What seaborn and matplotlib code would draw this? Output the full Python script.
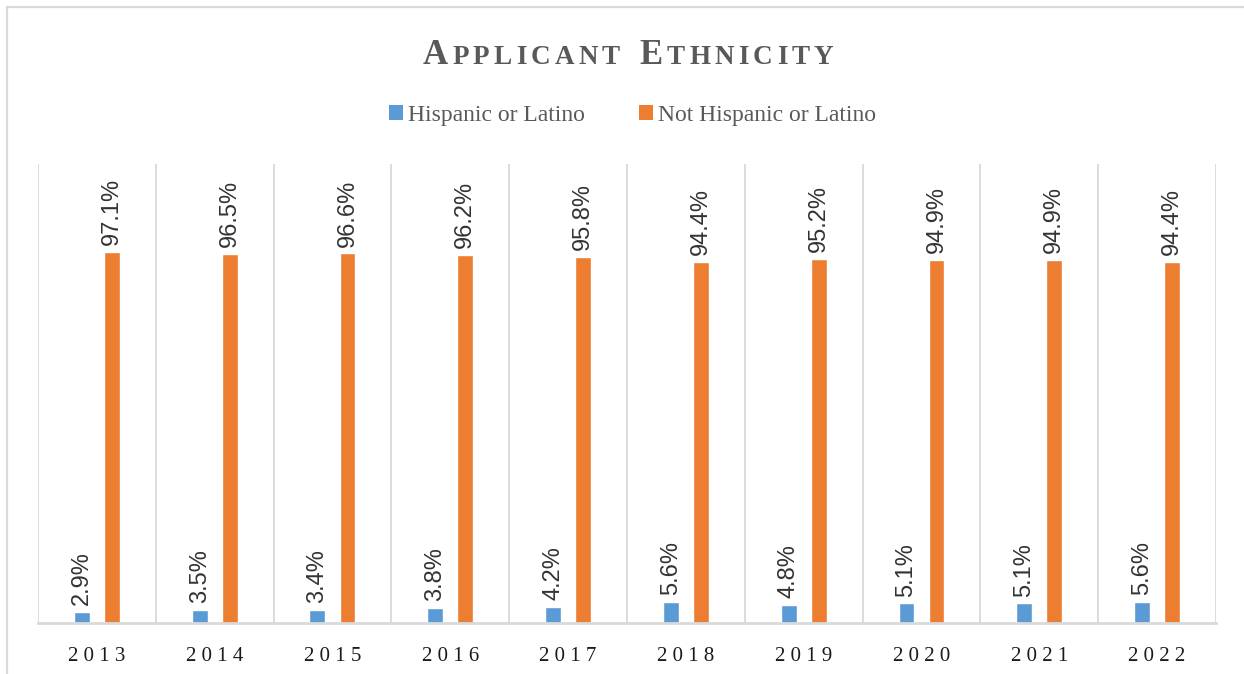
import numpy as np
import pandas as pd
import matplotlib
matplotlib.use('Agg')
import matplotlib.pyplot as plt
import seaborn as sns
from matplotlib.patches import Patch, Rectangle
from matplotlib.offsetbox import TextArea, HPacker, AnchoredOffsetbox

# chart data
years = ['2013', '2014', '2015', '2016', '2017', '2018', '2019', '2020', '2021', '2022']
hispanic = [2.9, 3.5, 3.4, 3.8, 4.2, 5.6, 4.8, 5.1, 5.1, 5.6]
not_hispanic = [97.1, 96.5, 96.6, 96.2, 95.8, 94.4, 95.2, 94.9, 94.9, 94.4]
groups = ['Hispanic or Latino', 'Not Hispanic or Latino']
colors = ['#5B9BD5', '#ED7D31']

df = pd.DataFrame({
    'year': years * 2,
    'pct': hispanic + not_hispanic,
    'group': [groups[0]] * len(years) + [groups[1]] * len(years),
})

sns.set_style('white')
serif = ['Liberation Serif', 'DejaVu Serif']
sans = ['Liberation Sans', 'DejaVu Sans']

fig = plt.figure(figsize=(12.44, 6.74), dpi=100)
ax = fig.add_axes([0.0305, 0.0757, 0.9470, 0.681])

sns.barplot(data=df, x='year', y='pct', hue='group', palette=colors,
            saturation=1, width=0.51, gap=0.47, ax=ax, legend=False)

# data labels
for cont in ax.containers:
    vals = cont.datavalues
    ax.bar_label(cont, labels=[f'{v:.1f}%' for v in vals], rotation=90,
                 padding=5, fontsize=17, family=sans, color='#333333')

ax.set_ylim(0, 120)
ax.set_xlim(-0.5, len(years) - 0.5)
ax.set_yticks([])
ax.set_xlabel('')
ax.set_ylabel('')

# category separators
ax.set_xticks(np.arange(-0.5, len(years), 1.0), minor=True)
ax.grid(which='minor', axis='x', color='#d9d9d9', linewidth=1.3)
ax.tick_params(axis='x', which='both', length=0, pad=17)
ax.set_xticks(range(len(years)))
ax.set_xticklabels([' '.join(y) for y in years], fontsize=15,
                   family=serif, color='#1a1a1a')

for side in ['left', 'right', 'top']:
    ax.spines[side].set_visible(False)
ax.spines['bottom'].set_color('#d9d9d9')
ax.spines['bottom'].set_linewidth(2)

# legend
handles = [Patch(facecolor=c, edgecolor='none') for c in colors]
fig.legend(handles, groups, loc='center', bbox_to_anchor=(0.5085, 0.829),
           ncol=2, frameon=False, handlelength=0.6, handleheight=0.6,
           handletextpad=0.2, columnspacing=2.3,
           prop={'family': serif, 'size': 17}, labelcolor='#595959')

# small-caps title built from pieces
title_color = '#595959'
pieces = []
for word in ['Applicant', 'Ethnicity']:
    if pieces:
        pieces.append(TextArea('  ', textprops=dict(fontsize=16, family=serif)))
    for i, ch in enumerate(word):
        size = 25 if i == 0 else 19.5
        pieces.append(TextArea(ch.upper(), textprops=dict(
            fontsize=size, family=serif, fontweight='bold', color=title_color)))
packer = HPacker(children=pieces, align='baseline', pad=0, sep=3)
title_box = AnchoredOffsetbox(loc='center', child=packer, frameon=False,
                              bbox_to_anchor=(0.505, 0.918),
                              bbox_transform=fig.transFigure, pad=0)
fig.add_artist(title_box)

# outer frame
fig.patches.append(Rectangle((7 / 1244, -0.05), 1.2, (674 - 7) / 674 + 0.05,
                             transform=fig.transFigure, fill=False,
                             edgecolor='#d9d9d9', linewidth=1.6))

fig.savefig('out.png', dpi=100)
